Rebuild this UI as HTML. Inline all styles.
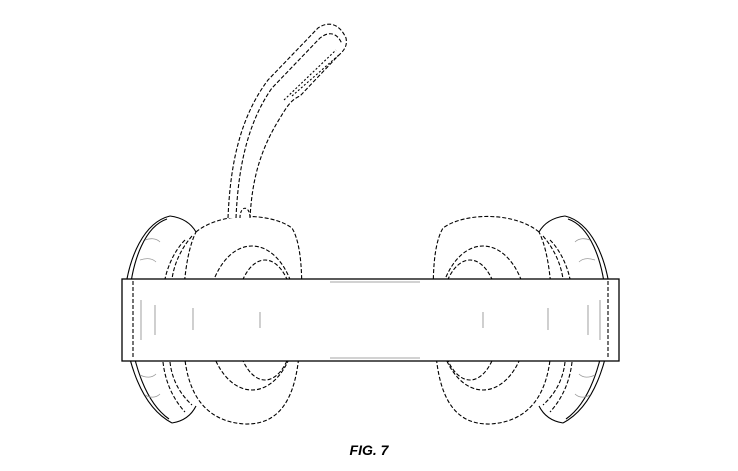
<!DOCTYPE html><html><head><style>body{margin:0;background:#fff}svg{display:block}</style></head><body>
<svg width="738" height="471" viewBox="0 0 738 471" xmlns="http://www.w3.org/2000/svg" fill="none" stroke="#000" stroke-width="1.1">
<!-- left outer shell -->
<path d="M170 216 C145 222 128 255 124 300 C122 350 138 405 172 423" />
<path d="M167 219 C146 226 132 258 129 300 C127 348 142 400 169 419" />
<path d="M170 216 C185 218 192 225 196 232" />
<path d="M172 423 C185 421 192 414 196 406" />
<path d="M185 240 C175 250 168 265 165 279" stroke-dasharray="4 2"/>
<path d="M192 236 C180 250 174 265 172 279" stroke-dasharray="4 2"/>
<path d="M163 362 C165 380 172 398 185 412" stroke-dasharray="4 2"/>
<path d="M170 362 C172 380 180 394 192 405" stroke-dasharray="4 2"/>
<g stroke="#999" stroke-width="0.8">
<path d="M140 260 C146 258 152 258 156 262"/><path d="M145 240 C150 238 156 238 160 242"/>
<path d="M140 375 C146 378 152 378 156 374"/><path d="M145 395 C150 398 156 398 160 394"/>
</g>
<!-- left cushion -->
<path d="M196 232 C220 212 270 212 292 228 C305 250 302 300 300 340 C298 390 285 425 245 424 C210 422 190 400 185 360 C181 320 182 260 196 232Z" stroke-dasharray="4 2"/>
<ellipse cx="252" cy="318" rx="45" ry="72" stroke-dasharray="4 2"/>
<ellipse cx="265" cy="320" rx="30" ry="60" stroke-dasharray="4 2"/>
<!-- right outer shell -->
<path d="M565 216 C590 222 607 255 611 300 C613 350 597 405 563 423" />
<path d="M568 219 C589 226 603 258 606 300 C608 348 593 400 566 419" />
<path d="M565 216 C550 218 543 225 539 232" />
<path d="M563 423 C550 421 543 414 539 406" />
<path d="M550 240 C560 250 567 265 570 279" stroke-dasharray="4 2"/>
<path d="M543 236 C555 250 561 265 563 279" stroke-dasharray="4 2"/>
<path d="M572 362 C570 380 563 398 550 412" stroke-dasharray="4 2"/>
<path d="M565 362 C563 380 555 394 543 405" stroke-dasharray="4 2"/>
<g stroke="#999" stroke-width="0.8">
<path d="M595 260 C589 258 583 258 579 262"/><path d="M590 240 C585 238 579 238 575 242"/>
<path d="M595 375 C589 378 583 378 579 374"/><path d="M590 395 C585 398 579 398 575 394"/>
</g>
<!-- right cushion -->
<path d="M539 232 C515 212 465 212 443 228 C430 250 433 300 435 340 C437 390 450 425 490 424 C525 422 545 400 550 360 C554 320 553 260 539 232Z" stroke-dasharray="4 2"/>
<ellipse cx="483" cy="318" rx="45" ry="72" stroke-dasharray="4 2"/>
<ellipse cx="470" cy="320" rx="30" ry="60" stroke-dasharray="4 2"/>
<!-- mic boom -->
<path d="M228 218 C230 170 238 120 268 80 L318 28 C330 20 340 25 346 38 C348 48 342 52 336 58 L300 96 C290 100 285 110 280 118 C260 150 252 180 250 218" stroke-dasharray="4 2" fill="#fff"/>
<path d="M236 218 C238 172 246 125 272 88 L320 38 C330 30 338 34 342 44" stroke-dasharray="4 2"/>
<path d="M284 100 L336 50" stroke-dasharray="2 2"/>
<path d="M292 96 L340 54" stroke-dasharray="2 2"/>
<path d="M240 218 C240 205 250 205 250 218" stroke-dasharray="3 2"/>
<!-- headband -->
<rect x="122" y="279" width="497" height="82" fill="#fff" stroke-width="1.3"/>
<line x1="133" y1="281" x2="133" y2="359" stroke-dasharray="4 2"/>
<line x1="608" y1="281" x2="608" y2="359" stroke-dasharray="4 2"/>
<g stroke="#888" stroke-width="0.8">
<line x1="141" y1="300" x2="141" y2="340"/><line x1="155" y1="305" x2="155" y2="335"/><line x1="193" y1="308" x2="193" y2="330"/><line x1="260" y1="312" x2="260" y2="328"/>
<line x1="483" y1="312" x2="483" y2="328"/><line x1="548" y1="308" x2="548" y2="330"/><line x1="588" y1="305" x2="588" y2="335"/><line x1="600" y1="300" x2="600" y2="340"/>
<line x1="330" y1="282" x2="420" y2="282"/><line x1="330" y1="358" x2="420" y2="358"/>
</g>
<text x="369" y="455" font-family="Liberation Sans, sans-serif" font-size="14" font-weight="bold" font-style="italic" text-anchor="middle" fill="#000" stroke="none">FIG. 7</text>
</svg>
</body></html>
